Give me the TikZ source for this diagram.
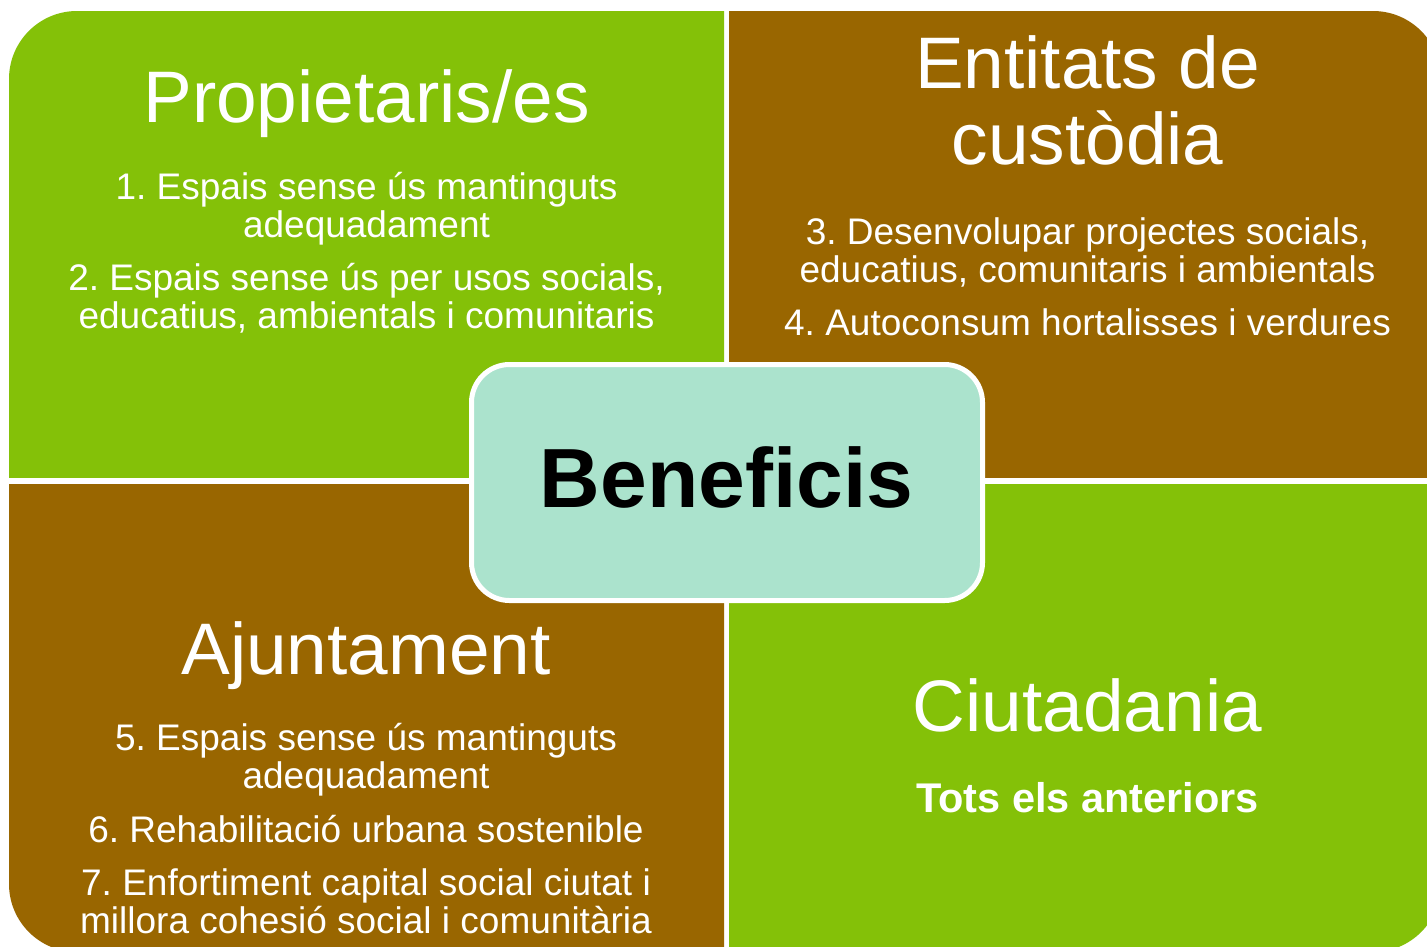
\documentclass[tikz,border=0pt]{standalone}
\usepackage{fontspec}
\setmainfont{Liberation Sans}
\frenchspacing
\definecolor{cgreen}{HTML}{84C108}
\definecolor{cbrown}{HTML}{996600}
\definecolor{cteal}{HTML}{ABE3CD}
\begin{document}
\frenchspacing
\begin{tikzpicture}[x=1pt,y=-1pt,
  ttl/.style={anchor=base, inner sep=0pt, text=white, font=\fontsize{73}{75}\selectfont},
  bod/.style={anchor=base, inner sep=0pt, text=white, font=\fontsize{37}{38}\selectfont},
  bbod/.style={anchor=base, inner sep=0pt, text=white, font=\fontsize{41.5}{44}\selectfont\bfseries},
  outer/.style={rounded corners=68pt},
  centerbox/.style={draw=white, line width=5pt, fill=cteal, rounded corners=38pt,
    minimum width=511pt, minimum height=236pt, inner sep=0pt}
]
\useasboundingbox (0,0) rectangle (1427,946);
\fill[white] (0,0) rectangle (1427,946);
% quadrants
\begin{scope}
  \clip (9,11) rectangle (724,477);
  \fill[cgreen, outer] (9,11) rectangle (1441,952);
\end{scope}
\begin{scope}
  \clip (729,11) rectangle (1441,477);
  \fill[cbrown, outer] (9,11) rectangle (1441,952);
\end{scope}
\begin{scope}
  \clip (9,484) rectangle (724,952);
  \fill[cbrown, outer] (9,11) rectangle (1441,952);
\end{scope}
\begin{scope}
  \clip (729,484) rectangle (1441,952);
  \fill[cgreen, outer] (9,11) rectangle (1441,952);
\end{scope}
% top-left
\node[ttl] (tprop) at (366.5,122) {Propietaris/es};
\node[bod] (p1a) at (366.5,199) {1. Espais sense ús mantinguts};
\node[bod] (p1b) at (366.5,237) {adequadament};
\node[bod] (p2a) at (366.5,290) {2. Espais sense ús per usos socials,};
\node[bod] (p2b) at (366.5,328) {educatius, ambientals i comunitaris};
% top-right
\node[ttl] (tent) at (1087.5,88) {Entitats de};
\node[ttl] (tcus) at (1087.5,164) {custòdia};
\node[bod] (e3a) at (1087.5,244) {3. Desenvolupar projectes socials,};
\node[bod] (e3b) at (1087.5,282) {educatius, comunitaris i ambientals};
\node[bod] (e4) at (1087.5,335) {4. Autoconsum hortalisses i verdures};
% bottom-left
\node[ttl] (taj) at (366,674) {Ajuntament};
\node[bod] (a5a) at (366,750) {5. Espais sense ús mantinguts};
\node[bod] (a5b) at (366,788) {adequadament};
\node[bod] (a6) at (366,842) {6. Rehabilitació urbana sostenible};
\node[bod] (a7a) at (366,895) {7. Enfortiment capital social ciutat i};
\node[bod] (a7b) at (366,933) {millora cohesió social i comunitària};
% bottom-right
\node[ttl] (tciu) at (1087.5,731) {Ciutadania};
\node[bbod] (tots) at (1087.5,812) {Tots els anteriors};
% centre
\node[centerbox] (cbox) at (727,482.5) {};
\node[anchor=base, inner sep=0pt, font=\fontsize{84}{86}\selectfont\bfseries] (benef) at (726.5,507) {Beneficis};
\end{tikzpicture}
\end{document}
